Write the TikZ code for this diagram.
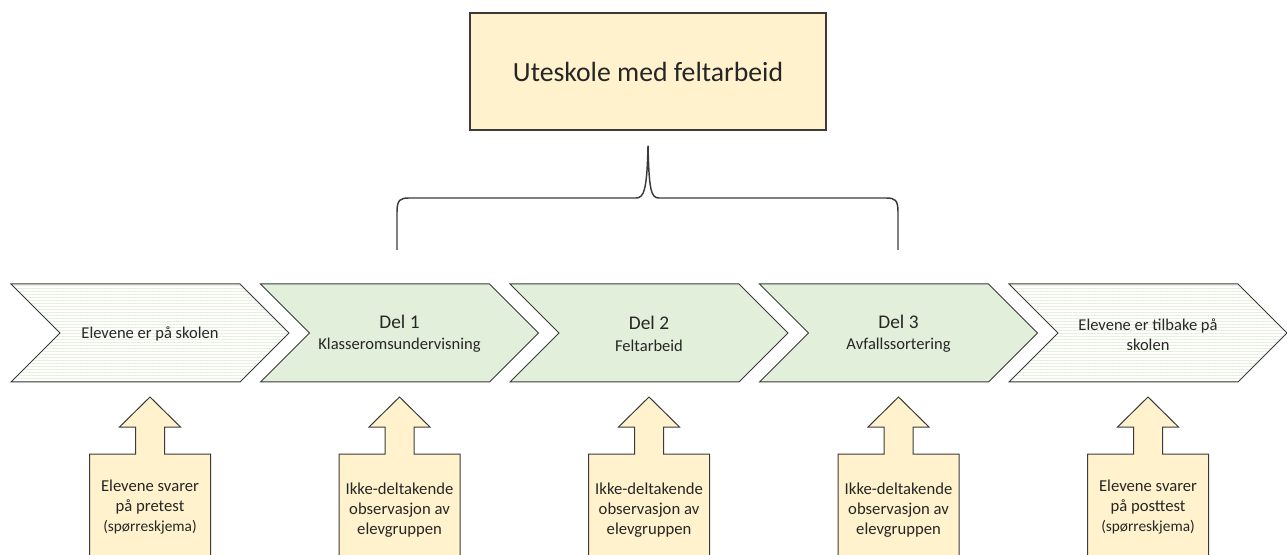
\documentclass[tikz,border=0pt]{standalone}
\usepackage{fontspec}
\setmainfont{Carlito}
\usetikzlibrary{patterns.meta}
\definecolor{boxyellow}{HTML}{FFF2CC}
\definecolor{chevgreen}{HTML}{E2EFDA}
\definecolor{chevpale}{HTML}{F2F8EE}
\definecolor{txtgray}{HTML}{262626}
\definecolor{linegray}{HTML}{3A3A3A}

\tikzset{
  chev/.style={draw=linegray, line width=0.75pt, fill=chevgreen},
  chevstripe/.style={chev, fill=chevpale,
    pattern={Lines[angle=0,distance=2.25pt,line width=0.5pt]}, pattern color=chevgreen},
  uparrow/.style={draw=linegray, line width=0.75pt, fill=boxyellow},
  chevtext/.style={text=txtgray, align=center, font=\fontsize{12.4}{15}\selectfont},
  arrowtext/.style={text=txtgray, align=center, font=\fontsize{12.5}{15}\selectfont},
  brace/.style={draw=linegray, line width=1.1pt}
}

\begin{document}
\begin{tikzpicture}[x=0.75pt,y=-0.75pt]
\useasboundingbox (0,0) rectangle (1287,555);

% title box
\node[draw=linegray, line width=1pt, fill=boxyellow, minimum width=267pt, minimum height=87.75pt,
  text=txtgray, font=\fontsize{20.8}{24}\selectfont] (title) at (648,71.5) {Uteskole med feltarbeid};

% brace under the title
\draw[brace] (397,250) -- (397,212) .. controls (397,200) and (400,198) .. (409,198)
  -- (636,198) .. controls (644,198) and (647,190) .. ([yshift=-11.25pt]title.south)
  .. controls (649,190) and (651,198) .. (659,198)
  -- (886,198) .. controls (895,198) and (898,200) .. (898,212) -- (898,250);

% chevrons
\foreach \i/\sty in {0/chevstripe,1/chev,2/chev,3/chev,4/chevstripe} {
  \pgfmathsetmacro\L{11+249.5*\i}
  \path[\sty] (\L,284) -- ++(229,0) -- ++(49,49) -- ++(-49,49) -- ++(-229,0) -- ++(49,-49) -- cycle;
}
\node[chevtext] (c1) at (150,334) {Elevene er på skolen};
\node[chevtext] (c2) at (399.5,334) {{\fontsize{14.5}{17}\selectfont Del 1}\\[1pt] Klasseromsundervisning};
\node[chevtext] (c3) at (649,334) {{\fontsize{14.5}{17}\selectfont Del 2}\\[1pt] Feltarbeid};
\node[chevtext] (c4) at (898.5,334) {{\fontsize{14.5}{17}\selectfont Del 3}\\[1pt] Avfallssortering};
\node[chevtext] (c5) at (1148,335) {Elevene er tilbake på\\ skolen};

% arrows from below
\foreach \i in {0,...,4} {
  \pgfmathsetmacro\C{150+249.5*\i}
  \path[uparrow] (\C-60.5,560) -- (\C-60.5,454) -- (\C-14.5,454) -- (\C-14.5,427) -- (\C-30.5,427)
    -- (\C,397) -- (\C+30.5,427) -- (\C+14.5,427) -- (\C+14.5,454) -- (\C+60.5,454) -- (\C+60.5,560);
}
\node[arrowtext] (o1) at (150,507) {Elevene svarer\\ på pretest\\ {\fontsize{11.5}{14}\selectfont(spørreskjema)}};
\node[arrowtext] (o2) at (399.5,510) {Ikke-deltakende\\ observasjon av\\ elevgruppen};
\node[arrowtext] (o3) at (649,510) {Ikke-deltakende\\ observasjon av\\ elevgruppen};
\node[arrowtext] (o4) at (898.5,510) {Ikke-deltakende\\ observasjon av\\ elevgruppen};
\node[arrowtext] (o5) at (1148,507) {Elevene svarer\\ på posttest\\ {\fontsize{11.5}{14}\selectfont(spørreskjema)}};
\end{tikzpicture}
\end{document}
